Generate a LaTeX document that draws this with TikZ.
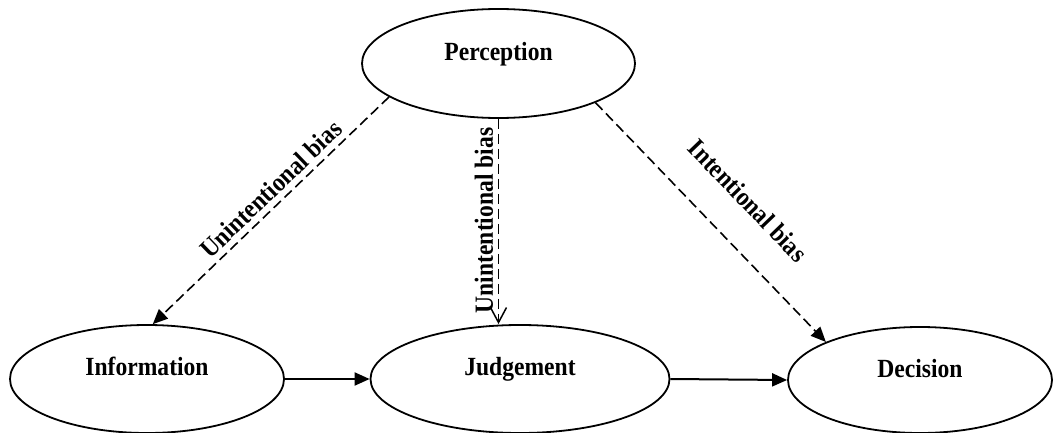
\documentclass[tikz,border=0pt]{standalone}
\usepackage{fontspec}
\setmainfont{Liberation Serif}[FakeStretch=0.9]
\usetikzlibrary{shapes.geometric,arrows.meta}
\begin{document}
\begin{tikzpicture}[x=1pt,y=-1pt,
  ell/.style={ellipse,draw,line width=1.8pt,inner sep=0pt,
    font=\fontsize{26.2}{30}\selectfont\bfseries,text height=10pt,text depth=18pt},
  lbl/.style={font=\fontsize{26.2}{30}\selectfont\bfseries},
  dashline/.style={line width=1.6pt,dash pattern=on 10pt off 5pt},
  solidline/.style={line width=2pt},
  filltip/.style={-{Triangle[length=15pt,width=13pt]}},
  opentip/.style={-{Straight Barb[length=15pt,width=16pt,line width=1.5pt]}}]
\useasboundingbox (0,0) rectangle (1054,433);
\node[ell, minimum width=273pt, minimum height=109pt, text depth=15.6pt] (P) at (498.5,63.5) {Perception};
\node[ell, minimum width=274pt, minimum height=108pt] (I) at (147,379) {Information};
\node[ell, minimum width=299pt, minimum height=108pt] (J) at (520,379) {Judgement};
\node[ell, minimum width=264pt, minimum height=106pt, text depth=16pt] (D) at (920,380) {Decision};
\draw[dashline,filltip] (P.197) -- (I.84)
  node[lbl,sloped,anchor=south,inner sep=5.5pt,pos=0.455] {Unintentional bias};
\draw[dashline,opentip] (P.south) -- (P.south |- J.north)
  node[lbl,pos=0.495,rotate=90,anchor=south,inner sep=4.5pt] {Unintentional bias};
\draw[dashline,filltip] (P.338) -- (D.158)
  node[lbl,sloped,anchor=south,inner sep=32pt,pos=0.531] {Intentional bias};
\draw[solidline,filltip] (I.east) -- (J.west);
\draw[solidline,filltip] (J.east) -- (D.west);
\end{tikzpicture}
\end{document}
